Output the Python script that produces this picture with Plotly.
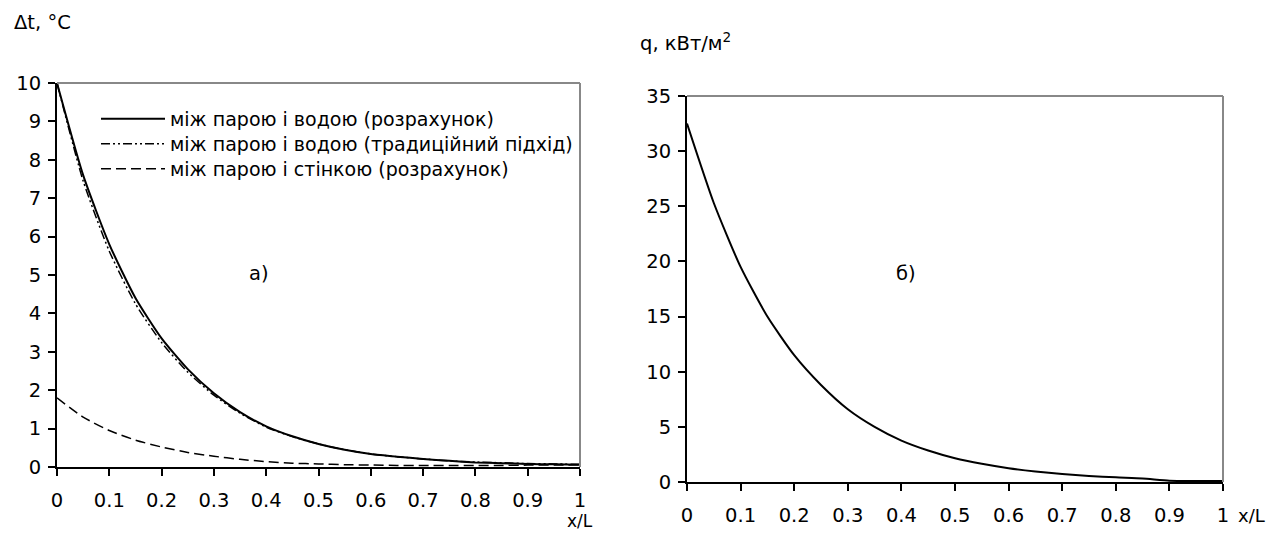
import plotly.graph_objects as go

# page is offset by the browser's default 8px body margin
OFF = 8
W, H = 1258, 526

x_rel = [0, 0.05, 0.1, 0.15, 0.2, 0.25, 0.3, 0.35, 0.4, 0.45, 0.5,
         0.55, 0.6, 0.65, 0.7, 0.75, 0.8, 0.85, 0.9, 0.95, 1.0]

dt_water_calc = [10, 7.6, 5.8, 4.4, 3.35, 2.55, 1.92, 1.43, 1.06, 0.8, 0.6,
                 0.45, 0.34, 0.27, 0.21, 0.16, 0.12, 0.1, 0.08, 0.07, 0.06]
dt_water_trad = [10, 7.45, 5.62, 4.25, 3.24, 2.47, 1.87, 1.4, 1.04, 0.79, 0.6,
                 0.45, 0.34, 0.27, 0.21, 0.16, 0.13, 0.11, 0.09, 0.08, 0.07]
dt_wall_calc = [1.8, 1.3, 0.95, 0.7, 0.52, 0.38, 0.28, 0.2, 0.14, 0.1, 0.08,
                0.06, 0.05, 0.04, 0.04, 0.04, 0.04, 0.04, 0.05, 0.05, 0.06]

q_flux = [32.5, 25.3, 19.5, 15.0, 11.5, 8.8, 6.6, 5.0, 3.75, 2.85, 2.15,
          1.65, 1.25, 0.95, 0.72, 0.55, 0.42, 0.32, 0.12, 0.1, 0.1]

legend_names = ["між парою і водою (розрахунок)",
                "між парою і водою (традиційний підхід)",
                "між парою і стінкою (розрахунок)"]

x_ticks = [0, 0.1, 0.2, 0.3, 0.4, 0.5, 0.6, 0.7, 0.8, 0.9, 1]
x_tick_text = ["0", "0.1", "0.2", "0.3", "0.4", "0.5", "0.6", "0.7", "0.8", "0.9", "1"]

FONT = "DejaVu Sans, Arial, sans-serif"
FS = 19.5
FS_LEG = 19


def px_x(p):
    return (p - OFF) / W


def px_y(p):
    return 1 - (p - OFF) / H


fig = go.Figure()

fig.add_trace(go.Scatter(x=x_rel, y=dt_water_calc, mode="lines", name=legend_names[0],
                         legend="legend",
                         line=dict(color="black", width=2, shape="spline", smoothing=0.6),
                         xaxis="x", yaxis="y"))
fig.add_trace(go.Scatter(x=x_rel, y=dt_water_trad, mode="lines", name=legend_names[1],
                         legend="legend2",
                         line=dict(color="black", width=1.5, dash="9px,3px,2px,3px,2px,3px",
                                   shape="spline", smoothing=0.6),
                         xaxis="x", yaxis="y"))
fig.add_trace(go.Scatter(x=x_rel, y=dt_wall_calc, mode="lines", name=legend_names[2],
                         legend="legend3",
                         line=dict(color="black", width=1.5, dash="10px,5px",
                                   shape="spline", smoothing=0.6),
                         xaxis="x", yaxis="y"))
fig.add_trace(go.Scatter(x=x_rel, y=q_flux, mode="lines", showlegend=False,
                         line=dict(color="black", width=2, shape="spline", smoothing=0.6),
                         xaxis="x2", yaxis="y2"))

axis_common = dict(showgrid=False, zeroline=False, showline=True, linecolor="black",
                   linewidth=2, ticks="outside", ticklen=7, tickwidth=1.5,
                   tickcolor="black", automargin=False,
                   tickfont=dict(family=FONT, size=FS, color="black"))

leg_common = dict(xanchor="left", yanchor="middle", bgcolor="rgba(0,0,0,0)",
                  font=dict(family=FONT, size=FS_LEG, color="black"), itemwidth=64)

fig.update_layout(
    width=W, height=H,
    margin=dict(l=0, r=0, t=0, b=0, autoexpand=False),
    paper_bgcolor="white", plot_bgcolor="white",
    font=dict(family=FONT, size=FS, color="black"),
    xaxis=dict(domain=[px_x(57), px_x(580)], range=[0, 1], tickvals=x_ticks,
               ticktext=x_tick_text, anchor="y", ticklabelstandoff=8, **axis_common),
    yaxis=dict(domain=[px_y(467), px_y(83)], range=[0, 10], dtick=1, anchor="x",
               ticklabelstandoff=3, **axis_common),
    xaxis2=dict(domain=[px_x(687), px_x(1223)], range=[0, 1], tickvals=x_ticks,
                ticktext=x_tick_text, anchor="y2", ticklabelstandoff=8, **axis_common),
    yaxis2=dict(domain=[px_y(482), px_y(96)], range=[0, 35], dtick=5, anchor="x2",
                ticklabelstandoff=3, **axis_common),
    legend=dict(x=px_x(96), y=px_y(119), **leg_common),
    legend2=dict(x=px_x(96), y=px_y(144), **leg_common),
    legend3=dict(x=px_x(96), y=px_y(169), **leg_common),
    showlegend=True,
)

# grey top/right frame lines
for xr, yr in (("x", "y"), ("x2", "y2")):
    fig.add_shape(type="line", xref=f"{xr} domain", yref=f"{yr} domain",
                  x0=0, x1=1, y0=1, y1=1, line=dict(color="#888888", width=2))
    fig.add_shape(type="line", xref=f"{xr} domain", yref=f"{yr} domain",
                  x0=1, x1=1, y0=0, y1=1, line=dict(color="#888888", width=2))

annots = [
    dict(text="Δt, °C", x=px_x(12), y=px_y(23), size=FS),
    dict(text="q, кВт/м<sup>2</sup>", x=px_x(638), y=px_y(42), size=FS),
    dict(text="x/L", x=px_x(565), y=px_y(521), size=17),
    dict(text="x/L", x=px_x(1236), y=px_y(515), size=18),
    dict(text="а)", x=px_x(247), y=px_y(273), size=FS),
    dict(text="б)", x=px_x(894), y=px_y(273), size=FS),
]
for a in annots:
    fig.add_annotation(text=a["text"], x=a["x"], y=a["y"], xref="paper", yref="paper",
                       xanchor="left", yanchor="middle", showarrow=False,
                       font=dict(family=FONT, size=a["size"], color="black"))

fig.write_html("out.html")
